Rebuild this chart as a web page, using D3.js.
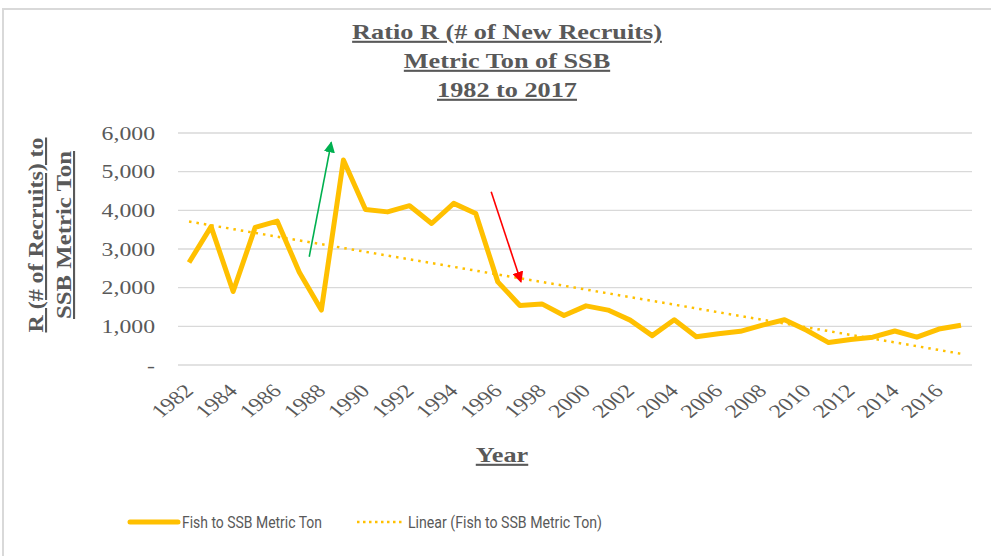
<!DOCTYPE html>
<html>

<head>
  <meta charset="utf8">
  <script src="https://d3js.org/d3.v7.min.js"></script>
  <style>
    body {
      margin: 0;
      background: #fff;
    }

    .grid line {
      stroke: #d9d9d9;
      stroke-width: 1.3;
    }

    .axis text {
      fill: #595959;
      font-family: 'Liberation Serif', serif;
      font-size: 19px;
    }

    .title {
      fill: #595959;
      font-family: 'Liberation Serif', serif;
      font-weight: bold;
      font-size: 21px;
      text-decoration: underline;
    }

    .legend text {
      fill: #595959;
      font-family: 'Roboto', sans-serif;
      font-size: 16px;
    }
  </style>
</head>

<body>
  <svg id="chart" width="991" height="556"></svg>

  <script>
    var years = d3.range(1982, 2018);
    var recruits = [
      2650, 3580, 1900, 3560, 3720, 2400, 1420, 5300, 4020, 3960,
      4120, 3660, 4180, 3920, 2150, 1540, 1580, 1280, 1530, 1420,
      1160, 760, 1170, 730, 810, 870, 1030, 1170, 900, 580,
      660, 720, 880, 720, 930, 1030
    ];
    var yTicks = [0, 1000, 2000, 3000, 4000, 5000, 6000];
    var xTicks = d3.range(1982, 2017, 2);
    var titleLines = ['Ratio R (# of New Recruits)', 'Metric Ton of SSB', '1982 to 2017'];
    var yTitleLines = ['R (# of Recruits) to', 'SSB Metric Ton'];
    var legendLabels = ['Fish to SSB Metric Ton', 'Linear (Fish to SSB Metric Ton)'];
    // annotation arrows: [fromYear, fromValue, toYear, toValue]
    var arrows = [
      { from: [1987.45, 2800], to: [1988.45, 5760], color: '#00b050' },
      { from: [1995.7, 4480], to: [1997.05, 2150], color: '#ff0000' }
    ];

    var chart = d3.select('#chart');
    var margin = { top: 133, right: 19, bottom: 191, left: 178 };
    var width = chart.attr('width') - margin.left - margin.right;
    var height = chart.attr('height') - margin.top - margin.bottom;
    var stretch = 'scale(1.25, 1)'; // serif text in the picture is drawn wide

    var x = d3.scaleLinear()
      .domain([1981.5, 2017.5])
      .range([0, width]);

    var y = d3.scaleLinear()
      .domain([0, 6000])
      .range([height, 0]);

    // outer frame
    chart.append('path')
      .attr('d', 'M3,556 V9 H991')
      .attr('fill', 'none')
      .attr('stroke', '#d9d9d9')
      .attr('stroke-width', 2);

    // title
    chart.append('text')
      .attr('class', 'title')
      .attr('text-anchor', 'middle')
      .attr('transform', 'translate(507, 0) ' + stretch)
      .selectAll('tspan')
      .data(titleLines)
      .join('tspan')
      .attr('x', 0)
      .attr('y', (d, i) => 39 + i * 29)
      .text((d) => d);

    var group = chart.append('g')
      .attr('transform', 'translate(' + margin.left + ', ' + margin.top + ')');

    group.append('g')
      .attr('class', 'grid')
      .selectAll('line')
      .data(yTicks)
      .join('line')
      .attr('x1', 0)
      .attr('x2', width)
      .attr('y1', (d) => y(d))
      .attr('y2', (d) => y(d));

    group.append('g')
      .attr('class', 'axis y-axis')
      .attr('transform', 'translate(-23, 0)')
      .call(d3.axisLeft(y).tickValues(yTicks).tickSize(0).tickPadding(0)
        .tickFormat((d) => d === 0 ? '-' : d3.format(',')(d)))
      .call((g) => g.select('.domain').remove())
      .selectAll('text')
      .attr('transform', stretch);

    group.append('g')
      .attr('class', 'axis x-axis')
      .attr('transform', 'translate(0, ' + height + ')')
      .call(d3.axisBottom(x).tickValues(xTicks).tickSize(0).tickFormat(d3.format('d')))
      .call((g) => g.select('.domain').remove())
      .selectAll('text')
      .attr('text-anchor', 'end')
      .attr('y', 0)
      .attr('dy', null)
      .attr('transform', 'translate(5, 27) ' + stretch + ' rotate(-45)');

    // axis titles
    chart.append('text')
      .attr('class', 'title')
      .attr('text-anchor', 'middle')
      .attr('transform', 'translate(0, 235) rotate(-90)')
      .selectAll('tspan')
      .data(yTitleLines)
      .join('tspan')
      .attr('x', 0)
      .attr('y', (d, i) => 43 + i * 28)
      .attr('textLength', (d, i) => i === 0 ? 195 : 168)
      .attr('lengthAdjust', 'spacingAndGlyphs')
      .text((d) => d);

    chart.append('text')
      .attr('class', 'title')
      .attr('text-anchor', 'middle')
      .attr('transform', 'translate(502, 462) ' + stretch)
      .text('Year');

    // linear trend (least squares)
    var n = years.length;
    var mx = d3.mean(years);
    var my = d3.mean(recruits);
    var slope = d3.sum(years, (d, i) => (d - mx) * (recruits[i] - my)) /
      d3.sum(years, (d) => (d - mx) * (d - mx));
    var intercept = my - slope * mx;
    var trend = [years[0], years[n - 1]].map((d) => ({ year: d, value: intercept + slope * d }));

    var line = d3.line()
      .x((d) => x(d.year))
      .y((d) => y(d.value));

    group.append('path')
      .datum(years.map((d, i) => ({ year: d, value: recruits[i] })))
      .attr('fill', 'none')
      .attr('stroke', '#ffc000')
      .attr('stroke-width', 5)
      .attr('stroke-linejoin', 'round')
      .attr('d', line);

    group.append('path')
      .datum(trend)
      .attr('fill', 'none')
      .attr('stroke', '#ffc000')
      .attr('stroke-width', 2.5)
      .attr('stroke-dasharray', '2.5 5')
      .attr('d', line);

    // arrows
    var defs = chart.append('defs');
    arrows.forEach((a, i) => {
      defs.append('marker')
        .attr('id', 'arrow' + i)
        .attr('viewBox', '0 0 10 10')
        .attr('refX', 9)
        .attr('refY', 5)
        .attr('markerWidth', 7)
        .attr('markerHeight', 7)
        .attr('markerUnits', 'strokeWidth')
        .attr('orient', 'auto')
        .append('path')
        .attr('d', 'M0,0 L10,5 L0,10 z')
        .attr('fill', a.color);
      group.append('line')
        .attr('x1', x(a.from[0]))
        .attr('y1', y(a.from[1]))
        .attr('x2', x(a.to[0]))
        .attr('y2', y(a.to[1]))
        .attr('stroke', a.color)
        .attr('stroke-width', 1.6)
        .attr('marker-end', 'url(#arrow' + i + ')');
    });

    // legend
    var legend = chart.append('g').attr('class', 'legend');
    legend.append('line')
      .attr('x1', 130).attr('x2', 178)
      .attr('y1', 522).attr('y2', 522)
      .attr('stroke', '#ffc000')
      .attr('stroke-width', 5)
      .attr('stroke-linecap', 'round');
    legend.append('text')
      .attr('x', 182).attr('y', 528)
      .attr('textLength', 140)
      .attr('lengthAdjust', 'spacingAndGlyphs')
      .text(legendLabels[0]);
    legend.append('line')
      .attr('x1', 357).attr('x2', 402)
      .attr('y1', 522).attr('y2', 522)
      .attr('stroke', '#ffc000')
      .attr('stroke-width', 2.5)
      .attr('stroke-dasharray', '2.5 3.5');
    legend.append('text')
      .attr('x', 408).attr('y', 528)
      .attr('textLength', 194)
      .attr('lengthAdjust', 'spacingAndGlyphs')
      .text(legendLabels[1]);
  </script>
</body>

</html>
